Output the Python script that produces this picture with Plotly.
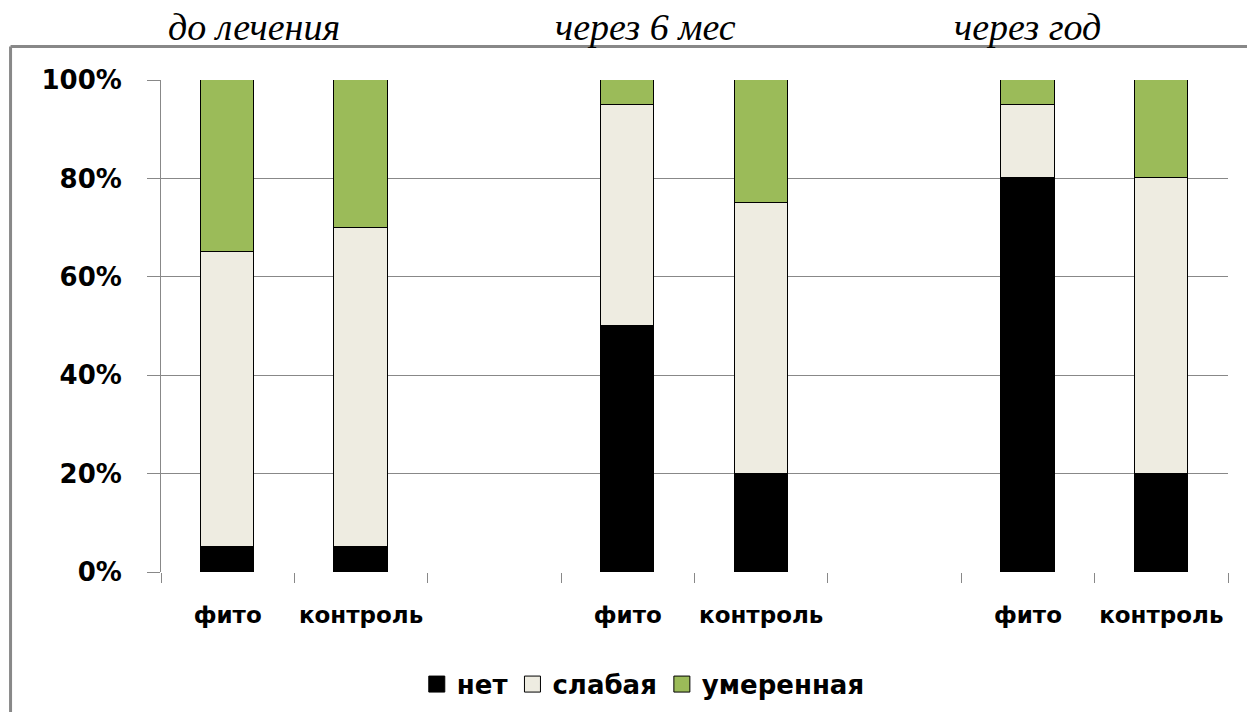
import plotly.graph_objects as go

# Groups of the stacked columns; blank slots separate the three periods
categories = ["фито", "контроль", "", "фито", "контроль", "", "фито", "контроль"]
periods = ["до лечения", "через 6 мес", "через год"]

# Share of patients (%) by severity
net = [5, 5, None, 50, 20, None, 80, 20]
slabaya = [60, 65, None, 45, 55, None, 15, 60]
umerennaya = [35, 30, None, 5, 25, None, 5, 20]

series = [
    ("нет", net, "#000000"),
    ("слабая", slabaya, "#EEECE1"),
    ("умеренная", umerennaya, "#9BBB59"),
]

y_ticks = [0, 20, 40, 60, 80, 100]

# horizontal placement of the period headings, in x-axis units
period_x = [0.2, 3.13, 6.0]

x_pos = list(range(len(categories)))
label_pos = [i for i, c in enumerate(categories) if c]
label_text = [c for c in categories if c]

fig = go.Figure()
for name, vals, color in series:
    fig.add_trace(go.Bar(
        x=x_pos, y=vals, name=name, width=0.4, showlegend=False,
        marker=dict(color=color, line=dict(color="#000000", width=1.5)),
    ))

# legend entries drawn as large outlined squares
for name, vals, color in series:
    fig.add_trace(go.Scatter(
        x=[None], y=[None], name=name, mode="markers",
        marker=dict(symbol="square", size=16, color=color,
                    line=dict(color="#000000", width=1)),
    ))

# invisible trace to carry the category labels on the second x axis
fig.add_trace(go.Scatter(x=label_pos, y=[0] * len(label_pos), xaxis="x2",
                         mode="markers", marker=dict(opacity=0),
                         showlegend=False, hoverinfo="skip"))

bold = dict(family="DejaVu Sans", size=23, color="#000000", weight="bold")

fig.update_layout(
    barmode="stack",
    width=1247, height=712,
    margin=dict(l=161, r=19, t=80, b=140, autoexpand=False),
    plot_bgcolor="white", paper_bgcolor="white",
    bargap=0,
    xaxis=dict(
        range=[-0.5, len(categories) - 0.5],
        tickvals=[i - 0.5 for i in range(len(categories) + 1)],
        ticktext=[""] * (len(categories) + 1),
        ticks="outside", ticklen=10, tickcolor="#888888", tickwidth=1,
        showgrid=False, zeroline=False,
        showline=False, automargin=False,
    ),
    xaxis2=dict(
        overlaying="x", side="bottom", matches="x",
        range=[-0.5, len(categories) - 0.5],
        tickvals=label_pos, ticktext=label_text,
        ticks="", showgrid=False, zeroline=False, showline=False,
        tickfont=bold, ticklabelstandoff=27, automargin=False,
    ),
    yaxis=dict(
        range=[0, 100],
        tickvals=y_ticks, ticktext=[f"{v}%" for v in y_ticks],
        ticks="outside", ticklen=13, tickcolor="#888888",
        showgrid=True, gridcolor="#888888", gridwidth=1,
        showline=True, linecolor="#888888", linewidth=1,
        zeroline=False, automargin=False,
        tickfont=dict(family="DejaVu Sans", size=26, color="#000000", weight="bold"),
        ticklabelstandoff=20,
    ),
    showlegend=True,
    legend=dict(
        orientation="h", x=0.452, xanchor="center", y=-0.228, yanchor="middle",
        font=dict(family="DejaVu Sans", size=26, color="#000000", weight="bold"),
        itemsizing="trace", traceorder="normal", itemwidth=30,
    ),
)

# period headings above the chart
for px, title in zip(period_x, periods):
    fig.add_annotation(
        x=px, xref="x",
        y=1.108, yref="paper", yanchor="middle",
        text=f"<i>{title}</i>", showarrow=False,
        font=dict(family="Liberation Serif", size=38, color="#000000"),
    )

# grey frame of the chart area
fig.add_shape(type="line", xref="paper", yref="paper",
              x0=-0.141, x1=1.05, y0=1.068, y1=1.068,
              line=dict(color="#888888", width=3))
fig.add_shape(type="line", xref="paper", yref="paper",
              x0=-0.141, x1=-0.141, y0=1.068, y1=-0.3,
              line=dict(color="#888888", width=3))

fig.write_html("out.html")
